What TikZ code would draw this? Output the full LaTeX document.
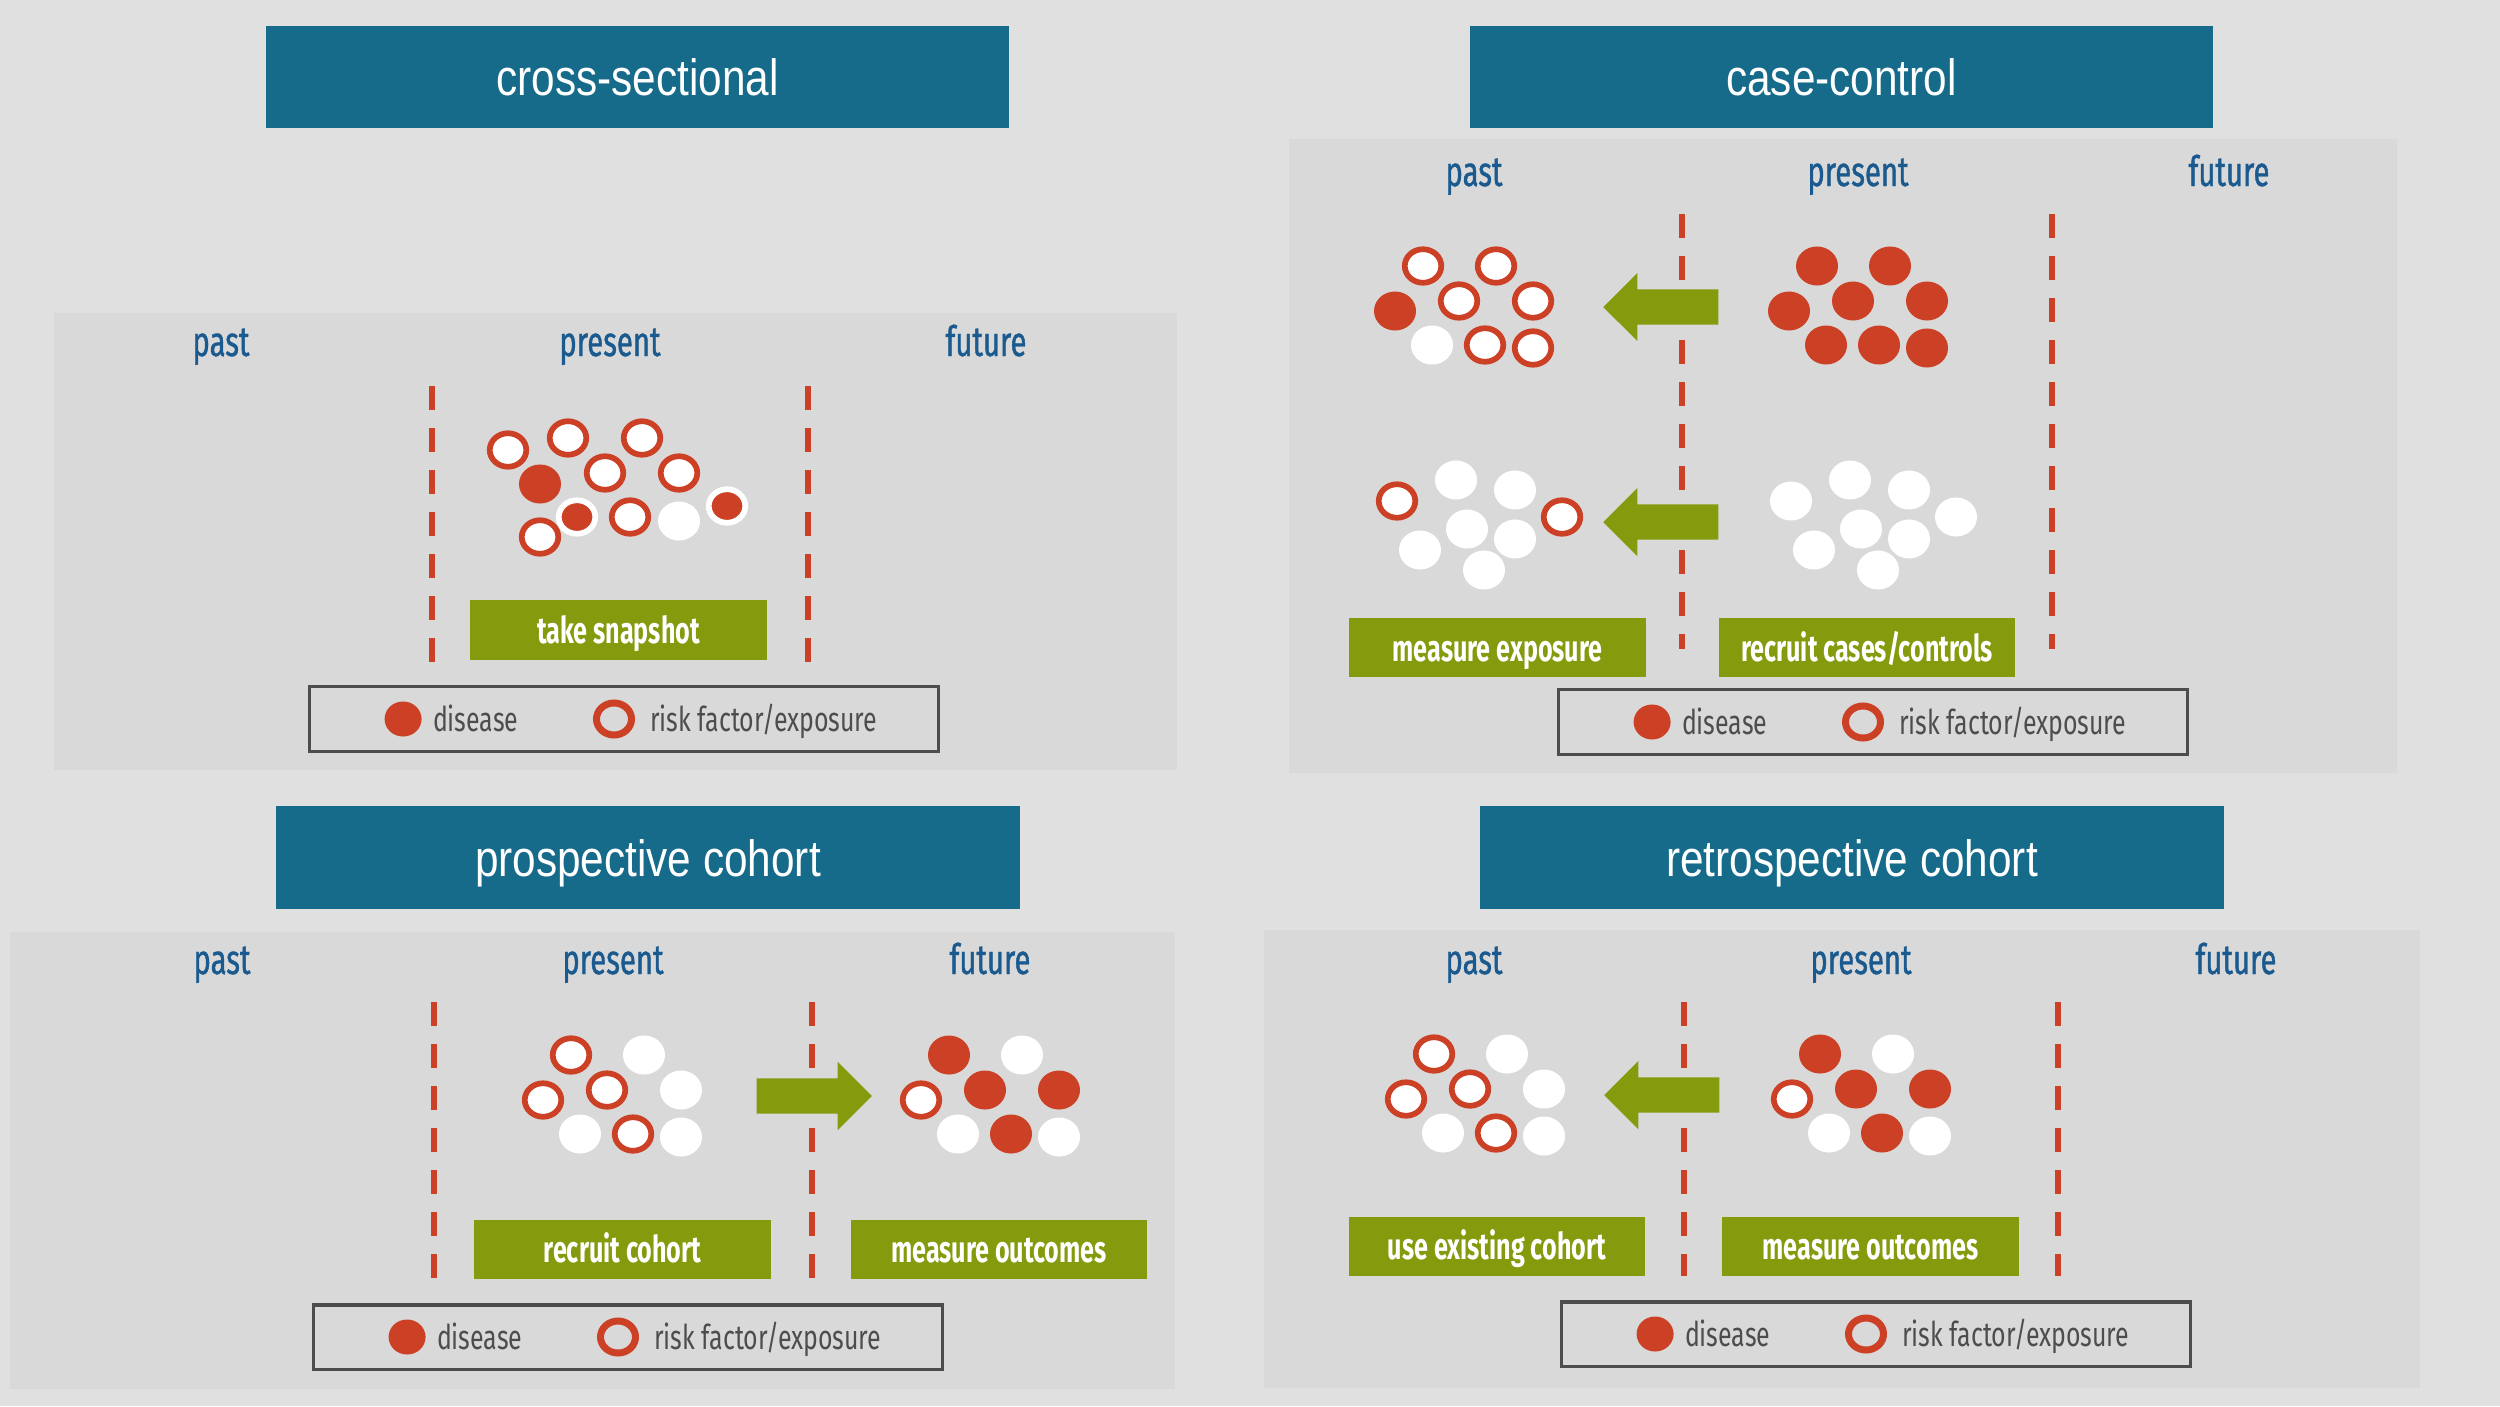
\documentclass[tikz,border=0pt]{standalone}
\usepackage{fontspec}
\usepackage{xcolor}
\usepackage{tikz}
\usetikzlibrary{shapes.geometric, shapes.arrows, positioning}

\newfontfamily\titlefont[FakeStretch=0.83]{Liberation Sans}
\newfontfamily\timefont[FakeStretch=0.70, FakeBold=0.9]{Fira Sans}
\newfontfamily\actfont[FakeStretch=0.68]{Fira Sans}
\newfontfamily\legfont[FakeStretch=0.73]{Fira Sans}

\definecolor{pagegray}{HTML}{E0E0E0}
\definecolor{panelgray}{HTML}{D9D9D9}
\definecolor{titleblue}{HTML}{166B8B}
\definecolor{timeblue}{HTML}{1A5A8E}
\definecolor{dotred}{HTML}{CC4125}
\definecolor{actgreen}{HTML}{859A0C}
\definecolor{legendgray}{HTML}{4D4D4D}

\begin{document}
\begin{tikzpicture}[x=0.01cm, y=-0.01cm]
\tikzstyle{titlebox} = [rectangle, fill=titleblue, text=white, minimum width=7.43cm, minimum height=1.02cm, inner sep=0pt, text height=0.37cm, text depth=0pt, font=\titlefont\fontsize{14.5}{16}\selectfont]
\tikzstyle{timelabel} = [anchor=base, inner sep=0pt, text=timeblue, font=\timefont\fontsize{11.9}{14}\selectfont]
\tikzstyle{nowline} = [draw=dotred, line width=0.06cm, dash pattern=on 0.24cm off 0.18cm]
\tikzstyle{riskdot} = [ellipse, draw=dotred, fill=white, line width=0.057cm, minimum width=0.365cm, minimum height=0.335cm, inner sep=0pt]
\tikzstyle{bothdot} = [ellipse, draw=white, fill=dotred, line width=0.057cm, minimum width=0.365cm, minimum height=0.335cm, inner sep=0pt]
\tikzstyle{sickdot} = [ellipse, fill=dotred, minimum width=0.42cm, minimum height=0.39cm, inner sep=0pt]
\tikzstyle{plaindot} = [ellipse, fill=white, minimum width=0.42cm, minimum height=0.39cm, inner sep=0pt]
\tikzstyle{actbox} = [rectangle, fill=actgreen, text=white, minimum width=2.96cm, minimum height=0.59cm, inner sep=0pt, text height=0.27cm, text depth=0pt, font=\actfont\bfseries\fontsize{10.5}{12}\selectfont]
\tikzstyle{timearrow} = [single arrow, fill=actgreen, inner sep=0pt, text height=0.34cm, text depth=0pt, minimum height=1.15cm, single arrow head extend=0.165cm, single arrow tip angle=90, anchor=tail]
\tikzstyle{legbox} = [rectangle, draw=legendgray, line width=0.03cm, minimum width=6.28cm, minimum height=0.64cm, inner sep=0pt]
\tikzstyle{legsick} = [ellipse, fill=dotred, minimum width=0.37cm, minimum height=0.35cm, inner sep=0pt]
\tikzstyle{legrisk} = [ellipse, draw=dotred, line width=0.07cm, minimum width=0.35cm, minimum height=0.32cm, inner sep=0pt]
\tikzstyle{legtext} = [inner sep=0pt, text=legendgray, text height=0.25cm, text depth=0pt, font=\legfont\fontsize{9.7}{12}\selectfont]

\fill[pagegray] (0,0) rectangle (2500,1406);
\useasboundingbox (0,0) rectangle (2500,1406);

% cross-sectional
\fill[panelgray] (54,313) rectangle (1177,770);
\node[titlebox] (cstitle) at (637.5,77) {cross-sectional};
\node[timelabel] (cspast) at (221,356) {past};
\node[timelabel] (csnow) at (610,356) {present};
\node[timelabel] (csfut) at (986,356) {future};
\draw[nowline] (432,386) -- (432,662);
\draw[nowline] (808,386) -- (808,662);
\foreach \x/\y/\s [count=\i] in {508/450/riskdot, 568/438/riskdot, 642/438/riskdot, 605/473/riskdot, 679/473/riskdot, 540/484/sickdot, 577/517/bothdot, 630/517/riskdot, 679/521/plaindot, 727/506/bothdot, 540/537/riskdot}
  \node[\s] (cs\i) at (\x,\y) {};
\node[actbox] (cssnap) at (618.5,630) {take snapshot};
\node[legbox] (csleg) at (624,719) {};
\node[legsick, right=0.755cm of csleg.west] (cslegsick) {};
\node[legtext, right=0.1cm of cslegsick] (cslegsicktxt) {disease};
\node[legrisk, right=2.845cm of csleg.west] (cslegrisk) {};
\node[legtext, right=0.145cm of cslegrisk] (cslegrisktxt) {risk factor/exposure};

% case-control
\fill[panelgray] (1289,139) rectangle (2397,773);
\node[titlebox] (cctitle) at (1841.5,77) {case-control};
\node[timelabel] (ccpast) at (1474,186) {past};
\node[timelabel] (ccnow) at (1858,186) {present};
\node[timelabel] (ccfut) at (2229,186) {future};
\draw[nowline] (1682,214) -- (1682,649);
\draw[nowline] (2052,214) -- (2052,649);
\begin{scope}[shift={(1459,301)}]
\foreach \x/\y/\s [count=\i] in {-36/-35/riskdot, 37/-35/riskdot, -64/10/sickdot, 0/0/riskdot, 74/0/riskdot, -27/44/plaindot, 26/44/riskdot, 74/47/riskdot}
  \node[\s] (ccpastA\i) at (\x,\y) {};
\end{scope}
\begin{scope}[shift={(1853,301)}]
\foreach \x/\y [count=\i] in {-36/-35, 37/-35, -64/10, 0/0, 74/0, -27/44, 26/44, 74/47}
  \node[sickdot] (ccnowA\i) at (\x,\y) {};
\end{scope}
\begin{scope}[shift={(1467,529)}]
\foreach \x/\y/\s [count=\i] in {-70/-28/riskdot, -11/-49/plaindot, 48/-39/plaindot, 95/-12/riskdot, 0/0/plaindot, 48/10/plaindot, -47/21/plaindot, 17/41/plaindot}
  \node[\s] (ccpastB\i) at (\x,\y) {};
\end{scope}
\begin{scope}[shift={(1861,529)}]
\foreach \x/\y [count=\i] in {-70/-28, -11/-49, 48/-39, 95/-12, 0/0, 48/10, -47/21, 17/41}
  \node[plaindot] (ccnowB\i) at (\x,\y) {};
\end{scope}
\node[timearrow, shape border rotate=180] (ccarrowA) at (1719,307) {};
\node[timearrow, shape border rotate=180] (ccarrowB) at (1719,522) {};
\node[actbox] (ccmeasure) at (1497.5,647.5) {measure exposure};
\node[actbox] (ccrecruit) at (1867,647.5) {recruit cases/controls};
\node[legbox] (ccleg) at (1873,722) {};
\node[legsick, right=0.755cm of ccleg.west] (cclegsick) {};
\node[legtext, right=0.1cm of cclegsick] (cclegsicktxt) {disease};
\node[legrisk, right=2.845cm of ccleg.west] (cclegrisk) {};
\node[legtext, right=0.145cm of cclegrisk] (cclegrisktxt) {risk factor/exposure};

% prospective cohort
\fill[panelgray] (10,932) rectangle (1175,1389);
\node[titlebox] (pctitle) at (648,857.5) {prospective cohort};
\node[timelabel] (pcpast) at (222,974) {past};
\node[timelabel] (pcnow) at (613,974) {present};
\node[timelabel] (pcfut) at (990,974) {future};
\draw[nowline] (434,1002) -- (434,1279);
\draw[nowline] (812,1002) -- (812,1279);
\begin{scope}[shift={(607,1090)}]
\foreach \x/\y/\s [count=\i] in {-36/-35/riskdot, 37/-35/plaindot, -64/10/riskdot, 0/0/riskdot, 74/0/plaindot, -27/44/plaindot, 26/44/riskdot, 74/47/plaindot}
  \node[\s] (pcnow\i) at (\x,\y) {};
\end{scope}
\begin{scope}[shift={(985,1090)}]
\foreach \x/\y/\s [count=\i] in {-36/-35/sickdot, 37/-35/plaindot, -64/10/riskdot, 0/0/sickdot, 74/0/sickdot, -27/44/plaindot, 26/44/sickdot, 74/47/plaindot}
  \node[\s] (pcfut\i) at (\x,\y) {};
\end{scope}
\node[timearrow] (pcarrow) at (756,1096) {};
\node[actbox] (pcrecruit) at (622.5,1249) {recruit cohort};
\node[actbox] (pcmeasure) at (999,1249) {measure outcomes};
\node[legbox] (pcleg) at (628,1337) {};
\node[legsick, right=0.755cm of pcleg.west] (pclegsick) {};
\node[legtext, right=0.1cm of pclegsick] (pclegsicktxt) {disease};
\node[legrisk, right=2.845cm of pcleg.west] (pclegrisk) {};
\node[legtext, right=0.145cm of pclegrisk] (pclegrisktxt) {risk factor/exposure};

% retrospective cohort
\fill[panelgray] (1264,930) rectangle (2420,1388);
\node[titlebox] (rctitle) at (1852,857.5) {retrospective cohort};
\node[timelabel] (rcpast) at (1474,974) {past};
\node[timelabel] (rcnow) at (1861,974) {present};
\node[timelabel] (rcfut) at (2236,974) {future};
\draw[nowline] (1684,1002) -- (1684,1276);
\draw[nowline] (2058,1002) -- (2058,1276);
\begin{scope}[shift={(1470,1089)}]
\foreach \x/\y/\s [count=\i] in {-36/-35/riskdot, 37/-35/plaindot, -64/10/riskdot, 0/0/riskdot, 74/0/plaindot, -27/44/plaindot, 26/44/riskdot, 74/47/plaindot}
  \node[\s] (rcpast\i) at (\x,\y) {};
\end{scope}
\begin{scope}[shift={(1856,1089)}]
\foreach \x/\y/\s [count=\i] in {-36/-35/sickdot, 37/-35/plaindot, -64/10/riskdot, 0/0/sickdot, 74/0/sickdot, -27/44/plaindot, 26/44/sickdot, 74/47/plaindot}
  \node[\s] (rcnow\i) at (\x,\y) {};
\end{scope}
\node[timearrow, shape border rotate=180] (rcarrow) at (1720,1095) {};
\node[actbox] (rcuse) at (1497,1246) {use existing cohort};
\node[actbox] (rcmeasure) at (1870.5,1246) {measure outcomes};
\node[legbox] (rcleg) at (1876,1334) {};
\node[legsick, right=0.755cm of rcleg.west] (rclegsick) {};
\node[legtext, right=0.1cm of rclegsick] (rclegsicktxt) {disease};
\node[legrisk, right=2.845cm of rcleg.west] (rclegrisk) {};
\node[legtext, right=0.145cm of rclegrisk] (rclegrisktxt) {risk factor/exposure};
\end{tikzpicture}
\end{document}
